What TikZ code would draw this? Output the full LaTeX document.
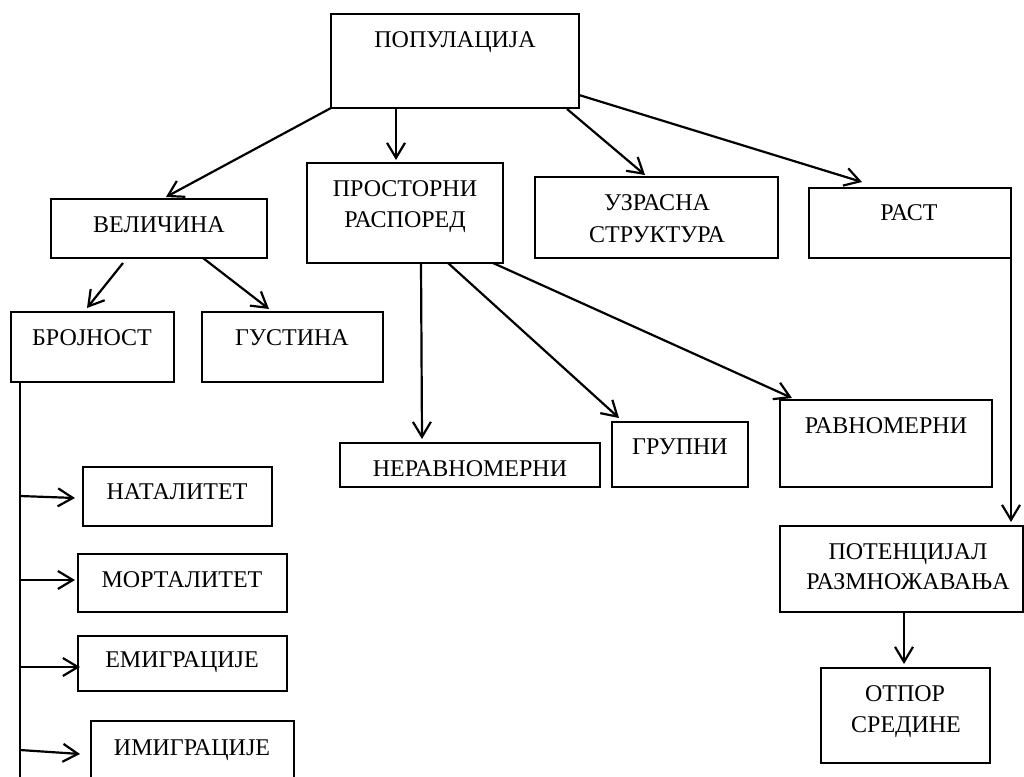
\documentclass[tikz,border=0pt]{standalone}
\usepackage{fontspec}
\setmainfont{Liberation Serif}
\usetikzlibrary{arrows.meta,calc,fit}
\begin{document}
\begin{tikzpicture}[x=1pt,y=-1pt,
  box/.style={draw,line width=2.4pt,rectangle,inner sep=0pt,outer sep=0pt},
  lbl/.style={inner sep=0pt,anchor=base,font=\fontsize{24}{31}\selectfont},
  arr/.style={line width=2.2pt,-{Straight Barb[length=15pt,width=18pt,line width=2.2pt]}},
  ln/.style={line width=2.2pt}]
\clip (0,0) rectangle (1024,776);
\fill[white] (0,0) rectangle (1024,776);

% boxes
\node[box,fit={(331,14) (579,108)}] (pop) {};
\node[box,fit={(51,199) (267,258)}] (vel) {};
\node[box,fit={(307,163) (503,263)}] (pros) {};
\node[box,fit={(535,177) (778,258)}] (uzr) {};
\node[box,fit={(809,188) (1011,258)}] (rast) {};
\node[box,fit={(11,312) (174,382)}] (broj) {};
\node[box,fit={(202,312) (383,382)}] (gus) {};
\node[box,fit={(340,443) (600,487)}] (nerav) {};
\node[box,fit={(612,422) (748,487)}] (grup) {};
\node[box,fit={(780,400) (992,487)}] (ravn) {};
\node[box,fit={(780,526) (1023,612)}] (pot) {};
\node[box,fit={(821,668) (990,763)}] (otp) {};
\node[box,fit={(83,467) (272,526)}] (nat) {};
\node[box,fit={(78,554) (287,612)}] (mort) {};
\node[box,fit={(78,636) (287,691)}] (emig) {};
\node[box,fit={(91,721) (294,790)}] (imig) {};

% labels
\node[lbl] (popt) at (455,48) {ПОПУЛАЦИЈА};
\node[lbl] (velt) at (159,232) {ВЕЛИЧИНА};
\node[lbl] (prost1) at (405,196) {ПРОСТОРНИ};
\node[lbl] (prost2) at (405,227) {РАСПОРЕД};
\node[lbl] (uzrt1) at (657,210) {УЗРАСНА};
\node[lbl] (uzrt2) at (657,242) {СТРУКТУРА};
\node[lbl] (rastt) at (909,220) {РАСТ};
\node[lbl] (brojt) at (92,345) {БРОЈНОСТ};
\node[lbl] (gust) at (292,345) {ГУСТИНА};
\node[lbl] (neravt) at (470,476) {НЕРАВНОМЕРНИ};
\node[lbl] (grupt) at (680,454) {ГРУПНИ};
\node[lbl] (ravnt) at (886,433) {РАВНОМЕРНИ};
\node[lbl] (pott1) at (908,559) {ПОТЕНЦИЈАЛ};
\node[lbl] (pott2) at (908,589) {РАЗМНОЖАВАЊА};
\node[lbl] (otpt1) at (905,701) {ОТПОР};
\node[lbl] (otpt2) at (906,732) {СРЕДИНЕ};
\node[lbl] (natt) at (177,499) {НАТАЛИТЕТ};
\node[lbl] (mortt) at (182,587) {МОРТАЛИТЕТ};
\node[lbl] (emigt) at (182,667) {ЕМИГРАЦИЈЕ};
\node[lbl] (imigt) at (192,755) {ИМИГРАЦИЈЕ};

% connectors from the top box
\draw[arr] (pop.south west) -- ($(vel.north)+(7,-2)$);
\draw[arr] ($(pop.south west)+(65,0)$) -- ($(pros.north west)+(89,-3)$);
\draw[arr] ($(pop.south east)+(-12,1)$) -- ($(uzr.north west)+(110,-2)$);
\draw[arr] ($(pop.east)+(0,34)$) -- ($(rast.north west)+(53,-6)$);

% size branch
\draw[arr] ($(vel.south west)+(72,5)$) -- ($(broj.north west)+(76,-4)$);
\draw[arr] ($(vel.south west)+(152,0)$) -- ($(gus.north west)+(67,-3)$);

% spatial distribution branch
\draw[arr] ($(pros.south west)+(114,0)$) -- ($(nerav.north west)+(82,-4)$);
\draw[arr] ($(pros.south west)+(141,0)$) -- ($(grup.north west)+(7,-4)$);
\draw[arr] ($(pros.south west)+(186,0)$) -- ($(ravn.north west)+(12,-2)$);

% growth branch
\draw[arr] (rast.south east) -- ($(pot.north west)+(231,-4)$);
\draw[arr] ($(pot.south west)+(124,0)$) -- ($(otp.north west)+(83,-4)$);

% abundance spine and its branches
\coordinate (spineend) at (20,780);
\draw[ln] ($(broj.south west)+(9,0)$) -- (spineend);
\coordinate (b1) at (20,496);
\coordinate (b2) at (20,580);
\coordinate (b3) at (20,667);
\coordinate (b4) at (20,750);
\draw[arr] (b1) -- ($(nat.west)+(-8,1.5)$);
\draw[arr] (b2) -- ($(mort.west)+(-3,-3)$);
\draw[arr] (b3) -- ($(emig.west)+(2,3.5)$);
\draw[arr] (b4) -- ($(imig.west)+(-11,-1.5)$);
\end{tikzpicture}
\end{document}
